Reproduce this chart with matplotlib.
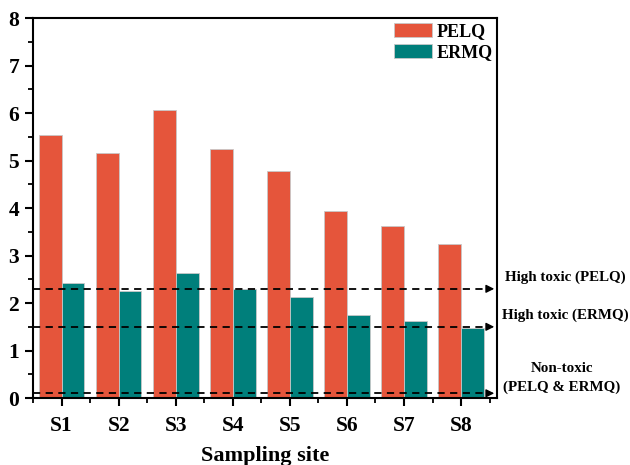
import numpy as np
import matplotlib.pyplot as plt
from matplotlib.ticker import MultipleLocator

plt.rcParams['font.family'] = ['Liberation Serif', 'DejaVu Serif']
plt.rcParams['font.weight'] = 'bold'

sites = ['S1', 'S2', 'S3', 'S4', 'S5', 'S6', 'S7', 'S8']
pelq = [5.54, 5.16, 6.06, 5.24, 4.79, 3.94, 3.62, 3.24]
ermq = [2.42, 2.25, 2.63, 2.30, 2.12, 1.75, 1.62, 1.47]
thresholds = [2.3, 1.5, 0.1]

fig = plt.figure(figsize=(6.3, 4.65), dpi=100)
ax = fig.add_axes([0.0524, 0.144, 0.7365, 0.817])

x = np.arange(1, len(sites) + 1)
w = 0.4
ax.bar(x - w / 2, pelq, w, color='#E5553B', edgecolor='#c8c8c8', linewidth=0.6, label='PELQ')
ax.bar(x + w / 2, ermq, w, color='#007F7B', edgecolor='#c8c8c8', linewidth=0.6, label='ERMQ')

xmax = 8.63
ax.set_xlim(0.5, xmax)
ax.set_ylim(0, 8)

# threshold lines with arrows at the right spine
for t in thresholds:
    ax.plot([0.5, xmax - 0.12], [t, t], ls=(0, (4, 3)), color='black', lw=1.3, clip_on=False)
    ax.annotate('', xy=(xmax, t), xytext=(xmax - 0.2, t),
                arrowprops=dict(arrowstyle='-|>', color='black', lw=1.0, mutation_scale=12))

ax.set_xticks(x)
ax.set_xticklabels(sites)
ax.xaxis.set_minor_locator(MultipleLocator(1, offset=0.5))
ax.yaxis.set_major_locator(MultipleLocator(1))
ax.yaxis.set_minor_locator(MultipleLocator(0.5))
ax.tick_params(which='major', direction='out', length=6, width=1.5, labelsize=15.5)
ax.tick_params(which='minor', direction='out', length=3.5, width=1.3)
ax.tick_params(axis='x', pad=7)
ax.tick_params(axis='y', pad=4)
for s in ax.spines.values():
    s.set_linewidth(1.5)

ax.set_xlabel('Sampling site', fontsize=16, fontweight='bold', labelpad=7)

ax.legend(loc='upper right', bbox_to_anchor=(1.0, 1.0), frameon=False,
          handlelength=2.1, handleheight=0.85,
          borderaxespad=0.0, borderpad=0.25, labelspacing=0.2, handletextpad=0.25,
          prop={'weight': 'bold', 'size': 13})

tx = 0.897
fs = 10.8
fig.text(tx, (465 - 277) / 465, 'High toxic (PELQ)', ha='center', va='center', fontsize=fs, fontweight='bold')
fig.text(tx, (465 - 315) / 465, 'High toxic (ERMQ)', ha='center', va='center', fontsize=fs, fontweight='bold')
fig.text(tx - 0.005, (465 - 368) / 465, 'Non-toxic', ha='center', va='center', fontsize=fs, fontweight='bold')
fig.text(tx - 0.005, (465 - 387) / 465, '(PELQ & ERMQ)', ha='center', va='center', fontsize=fs, fontweight='bold')

fig.savefig('out.png', dpi=100)
